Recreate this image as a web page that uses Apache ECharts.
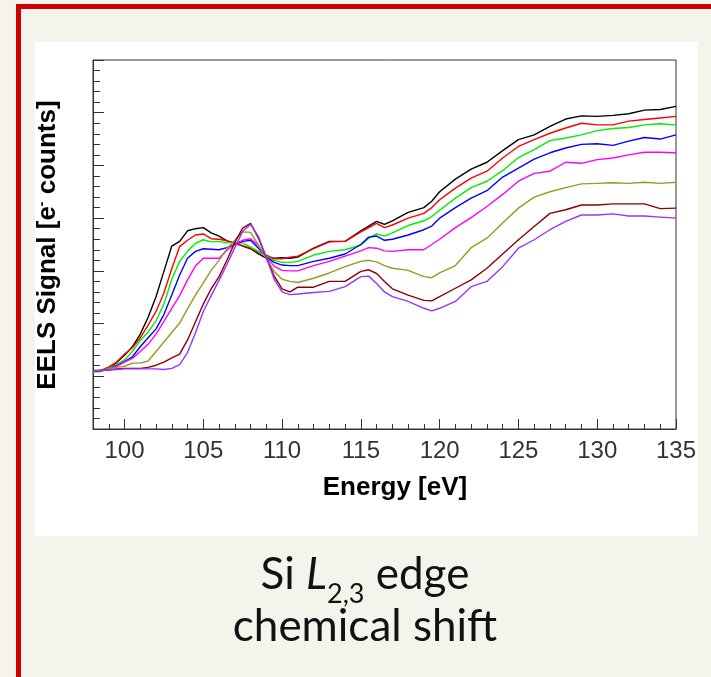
<!DOCTYPE html>
<html>
<head>
<meta charset="utf-8">
<script src="https://cdn.jsdelivr.net/npm/echarts@6/dist/echarts.min.js"></script>
<style>
html,body{margin:0;padding:0;background:#f4f4ec;}
#c{width:711px;height:677px;}
</style>
</head>
<body>
<div id="c"></div>
<script>
// Energy axis (eV)
const energies = [98, 98.5, 99, 99.5, 100, 100.5, 101, 101.5, 102, 102.5, 103, 103.5, 104, 104.5, 105, 105.5, 106, 106.5, 107, 107.5, 108, 108.5, 109, 109.5, 110, 110.5,
  111, 112, 113, 114, 115, 115.5, 116, 116.5, 117, 118, 119, 119.5, 120, 121, 122, 123, 124, 125, 126, 127, 128, 129, 130, 131, 132, 133, 134, 135];

const sBlack = [1.11, 1.11, 1.15, 1.26, 1.40, 1.56, 1.80, 2.12, 2.51, 2.99, 3.47, 3.56, 3.76, 3.80, 3.82, 3.72, 3.66, 3.57, 3.53, 3.47, 3.42, 3.32, 3.24, 3.24, 3.25, 3.24,
  3.26, 3.43, 3.56, 3.56, 3.76, 3.85, 3.94, 3.88, 3.95, 4.11, 4.20, 4.32, 4.50, 4.74, 4.93, 5.06, 5.28, 5.49, 5.58, 5.74, 5.88, 5.94, 5.93, 5.95, 5.98, 6.05, 6.06, 6.12];
const sRed = [1.10, 1.11, 1.18, 1.27, 1.42, 1.54, 1.73, 1.97, 2.23, 2.58, 3.04, 3.46, 3.58, 3.68, 3.70, 3.61, 3.60, 3.57, 3.52, 3.48, 3.43, 3.35, 3.30, 3.23, 3.23, 3.26,
  3.28, 3.42, 3.55, 3.56, 3.74, 3.82, 3.90, 3.82, 3.87, 4.00, 4.09, 4.20, 4.35, 4.57, 4.76, 4.89, 5.14, 5.36, 5.49, 5.61, 5.71, 5.80, 5.77, 5.77, 5.84, 5.87, 5.90, 5.93];
const sGreen = [1.08, 1.09, 1.16, 1.22, 1.31, 1.47, 1.68, 1.84, 2.05, 2.37, 2.84, 3.18, 3.37, 3.52, 3.59, 3.55, 3.56, 3.53, 3.54, 3.53, 3.45, 3.37, 3.28, 3.20, 3.16, 3.16,
  3.18, 3.30, 3.37, 3.40, 3.49, 3.62, 3.70, 3.66, 3.72, 3.86, 3.95, 4.03, 4.15, 4.38, 4.58, 4.70, 4.90, 5.15, 5.30, 5.47, 5.52, 5.58, 5.66, 5.70, 5.72, 5.77, 5.79, 5.77];
const sBlue = [1.10, 1.11, 1.15, 1.20, 1.28, 1.37, 1.56, 1.73, 1.90, 2.17, 2.54, 2.92, 3.24, 3.37, 3.42, 3.41, 3.40, 3.44, 3.50, 3.56, 3.58, 3.43, 3.26, 3.16, 3.11, 3.10,
  3.10, 3.18, 3.24, 3.32, 3.50, 3.64, 3.66, 3.58, 3.60, 3.68, 3.78, 3.85, 4.00, 4.20, 4.38, 4.52, 4.78, 4.95, 5.12, 5.24, 5.33, 5.40, 5.41, 5.38, 5.46, 5.53, 5.50, 5.58];
const sMagenta = [1.10, 1.11, 1.14, 1.19, 1.27, 1.34, 1.47, 1.61, 1.80, 2.04, 2.29, 2.53, 2.83, 3.09, 3.24, 3.24, 3.24, 3.39, 3.51, 3.58, 3.61, 3.48, 3.26, 3.09, 3.01, 3.00,
  3.00, 3.10, 3.18, 3.28, 3.38, 3.44, 3.43, 3.38, 3.37, 3.40, 3.40, 3.50, 3.60, 3.82, 4.01, 4.22, 4.45, 4.70, 4.85, 4.89, 5.06, 5.04, 5.11, 5.14, 5.20, 5.25, 5.25, 5.24];
const sOlive = [1.10, 1.11, 1.15, 1.17, 1.19, 1.25, 1.25, 1.29, 1.47, 1.65, 1.83, 2.01, 2.28, 2.54, 2.77, 3.01, 3.20, 3.42, 3.58, 3.74, 3.73, 3.49, 3.23, 2.99, 2.84, 2.80,
  2.78, 2.86, 2.96, 3.08, 3.18, 3.20, 3.17, 3.10, 3.05, 3.01, 2.89, 2.87, 2.96, 3.10, 3.44, 3.62, 3.91, 4.19, 4.40, 4.50, 4.58, 4.65, 4.66, 4.67, 4.66, 4.68, 4.66, 4.68];
const sMaroon = [1.10, 1.11, 1.12, 1.14, 1.15, 1.15, 1.15, 1.17, 1.21, 1.27, 1.35, 1.42, 1.69, 2.03, 2.37, 2.66, 2.89, 3.20, 3.54, 3.81, 3.90, 3.62, 3.25, 2.90, 2.66, 2.60,
  2.69, 2.69, 2.80, 2.80, 2.99, 3.02, 2.95, 2.80, 2.66, 2.54, 2.44, 2.43, 2.51, 2.67, 2.83, 3.05, 3.32, 3.59, 3.84, 4.09, 4.16, 4.25, 4.25, 4.27, 4.27, 4.27, 4.18, 4.19];
const sPurple = [1.10, 1.11, 1.12, 1.13, 1.14, 1.14, 1.14, 1.14, 1.14, 1.13, 1.15, 1.22, 1.45, 1.82, 2.23, 2.53, 2.82, 3.12, 3.44, 3.75, 3.88, 3.65, 3.26, 2.84, 2.60, 2.55,
  2.56, 2.59, 2.61, 2.70, 2.89, 2.90, 2.76, 2.60, 2.51, 2.42, 2.29, 2.24, 2.29, 2.42, 2.70, 2.80, 3.08, 3.43, 3.59, 3.78, 3.94, 4.06, 4.06, 4.08, 4.04, 4.04, 4.02, 4.00];

const xTickLabels = [100, 105, 110, 115, 120, 125, 130, 135];

const seriesList = [
  { name: 'black', values: sBlack, color: '#000000' },
  { name: 'red', values: sRed, color: '#ff0000' },
  { name: 'green', values: sGreen, color: '#00ee00' },
  { name: 'blue', values: sBlue, color: '#0000ff' },
  { name: 'magenta', values: sMagenta, color: '#ff00ff' },
  { name: 'olive', values: sOlive, color: '#999922' },
  { name: 'maroon', values: sMaroon, color: '#8b0000' },
  { name: 'purple', values: sPurple, color: '#9933ff' }
];

const chart = echarts.init(document.getElementById('c'));
const axisColor = '#333';

const option = {
  backgroundColor: '#f4f4ec',
  animation: false,
  graphic: [
    { type: 'rect', z: -100, silent: true, shape: { x: 35, y: 42, width: 663, height: 494 }, style: { fill: '#ffffff' } },
    { type: 'rect', z: -90, silent: true, shape: { x: 18.5, y: 6.5, width: 720, height: 700 }, style: { fill: 'none', stroke: '#cc0000', lineWidth: 5 } },
    { type: 'text', x: 395, y: 488, style: { text: 'Energy [eV]', font: 'bold 26px "Liberation Sans", Arial, sans-serif', fill: '#000', align: 'center', verticalAlign: 'middle' } },
    { type: 'text', x: 48, y: 245, rotation: Math.PI / 2, style: {
        text: 'EELS Signal [e{sup|-} counts]', font: 'bold 26px "Liberation Sans", Arial, sans-serif', fill: '#000', align: 'center', verticalAlign: 'middle',
        rich: { sup: { font: 'bold 14px "Liberation Sans", Arial, sans-serif', fill: '#000', verticalAlign: 'top', lineHeight: 14 } } } },
    { type: 'text', x: 365, y: 553, style: {
        text: '{m|Si }{i|L}{s|2,3}{m| edge}', fill: '#111', align: 'center', verticalAlign: 'top',
        font: '44px Lato, sans-serif',
        rich: {
          m: { fontFamily: 'Lato', fontSize: 44, lineHeight: 44, verticalAlign: 'top', fill: '#111' },
          i: { fontFamily: 'Lato', fontSize: 44, lineHeight: 44, fontStyle: 'italic', verticalAlign: 'top', fill: '#111' },
          s: { fontFamily: 'Lato', fontSize: 27, lineHeight: 27, padding: [28, 0, 0, 0], verticalAlign: 'top', fill: '#111' }
        } } },
    { type: 'text', x: 365, y: 627, style: { text: 'chemical shift', font: '44px Lato, sans-serif', fill: '#111', align: 'center', verticalAlign: 'middle' } }
  ],
  grid: { left: 93, top: 60, width: 583, height: 369, show: true, borderColor: axisColor, borderWidth: 1, backgroundColor: 'transparent' },
  xAxis: [
    {
      type: 'value', min: 98, max: 135, interval: 1,
      axisLine: { show: true, lineStyle: { color: axisColor, width: 1 } },
      axisTick: { show: true, inside: true, length: 5, lineStyle: { color: axisColor } },
      axisLabel: { show: false },
      splitLine: { show: false }
    },
    {
      type: 'value', position: 'bottom', min: 98, max: 135,
      axisLine: { show: false },
      axisTick: { show: true, inside: true, length: 10, customValues: xTickLabels, lineStyle: { color: axisColor } },
      axisLabel: { show: true, customValues: xTickLabels, fontSize: 24, color: '#333', fontFamily: '"Liberation Sans", Arial, sans-serif', margin: 10 },
      splitLine: { show: false }
    }
  ],
  yAxis: {
    type: 'value', min: 0, max: 7, interval: 1,
    axisLine: { show: true, lineStyle: { color: axisColor, width: 1 } },
    axisTick: { show: true, inside: true, length: 11, lineStyle: { color: axisColor } },
    minorTick: { show: true, splitNumber: 5, length: 7, lineStyle: { color: axisColor } },
    axisLabel: { show: false },
    splitLine: { show: false }
  },
  series: seriesList.map((s, k) => ({
    name: s.name,
    type: 'line',
    xAxisIndex: 0,
    yAxisIndex: 0,
    showSymbol: false,
    symbol: 'none',
    z: 2 + k,
    lineStyle: { color: s.color, width: 1.4 },
    data: energies.map((e, i) => [e, s.values[i]])
  }))
};
chart.setOption(option);
</script>
</body>
</html>
